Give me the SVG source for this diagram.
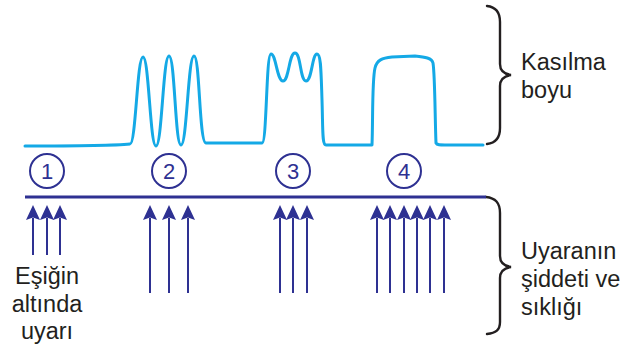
<svg xmlns="http://www.w3.org/2000/svg" width="622" height="349" viewBox="0 0 622 349">
  <style>
    .curve { fill: none; stroke: #14a9e6; stroke-width: 3; stroke-linejoin: round; stroke-linecap: round; }
    .brace { fill: none; stroke: #231f20; stroke-width: 2.4; stroke-linecap: round; }
    .axis { stroke: #2e3192; stroke-width: 3; }
    .shaft { stroke: #2e3192; stroke-width: 2; }
    .ring { fill: none; stroke: #2e3192; stroke-width: 2; }
    .num { font-family: "Liberation Sans", Arial, sans-serif; font-size: 22px; fill: #2e3192; text-anchor: middle; }
    .label { font-family: "Liberation Sans", Arial, sans-serif; font-size: 23.5px; fill: #231f20; }
    .mid { text-anchor: middle; }
  </style>
  <defs>
    <polygon id="head" points="0,205 7,220 0,217.5 -7,220" fill="#2e3192"/>
  </defs>

  <!-- contraction trace -->
  <g id="contraction-trace">
    <path class="curve" d="M25,146 C60,146 110,146 130,144 C136,144 137,57 143,57 C149,57 150,146 156,146 C162,146 163,56 169,56 C175,56 175,145 181,145 C187,145 188,56 194,56 C200,56 199,143 206,143 L262,143 C267,143 266,54 271,54 C276,54 277,81 283,81 C289,81 289,53 295,53 C301,53 300,81 306,81 C312,81 312,54 317,54 C321,54 321,70 322,100 C323,130 322,145 326,145 L372,145 C373,120 372,80 375,68 C377,60 382,58 392,57 L415,56 C425,57 432,58 433,63 C435,75 435,120 436,143 C437,145 440,145 445,145 L483,145"/>
  </g>

  <!-- braces and their labels -->
  <g id="brace-length">
    <path class="brace" d="M487,6 C496,7 500,12 500,22 L500,64 C500,71 504,74 511,75 C504,76 500,79 500,86 L500,128 C500,138 496,143 487,144"/>
    <text class="label" x="521" y="70">Kasılma</text>
    <text class="label" x="521" y="98">boyu</text>
  </g>
  <g id="brace-stimulus">
    <path class="brace" d="M486,197 C496,198 500,203 500,213 L500,256 C500,263 504,266 511,267 C504,268 500,271 500,278 L500,322 C500,330 496,333 487,334"/>
    <text class="label" x="521" y="259">Uyaranın</text>
    <text class="label" x="521" y="287">şiddeti ve</text>
    <text class="label" x="521" y="315">sıklığı</text>
  </g>

  <!-- numbered markers -->
  <g id="marker-1"><circle class="ring" cx="47" cy="171" r="17"/><text class="num" x="47" y="179">1</text></g>
  <g id="marker-2"><circle class="ring" cx="169" cy="171" r="17"/><text class="num" x="169" y="179">2</text></g>
  <g id="marker-3"><circle class="ring" cx="293" cy="171" r="17"/><text class="num" x="293" y="179">3</text></g>
  <g id="marker-4"><circle class="ring" cx="404" cy="171" r="17"/><text class="num" x="404" y="179">4</text></g>

  <!-- stimulus axis and arrows -->
  <g id="connectors">
    <line class="axis" x1="25" y1="197" x2="486" y2="197"/>

    <g id="stimuli-1">
      <line class="shaft" x1="33" y1="218" x2="33" y2="255"/>
      <line class="shaft" x1="47" y1="218" x2="47" y2="255"/>
      <line class="shaft" x1="60" y1="218" x2="60" y2="255"/>
      <use href="#head" x="33"/><use href="#head" x="47"/><use href="#head" x="60"/>
    </g>
    <g id="stimuli-2">
      <line class="shaft" x1="150" y1="218" x2="150" y2="293"/>
      <line class="shaft" x1="169" y1="218" x2="169" y2="293"/>
      <line class="shaft" x1="188" y1="218" x2="188" y2="293"/>
      <use href="#head" x="150"/><use href="#head" x="169"/><use href="#head" x="188"/>
    </g>
    <g id="stimuli-3">
      <line class="shaft" x1="280" y1="218" x2="280" y2="293"/>
      <line class="shaft" x1="293" y1="218" x2="293" y2="293"/>
      <line class="shaft" x1="307" y1="218" x2="307" y2="293"/>
      <use href="#head" x="280"/><use href="#head" x="293"/><use href="#head" x="307"/>
    </g>
    <g id="stimuli-4">
      <line class="shaft" x1="377" y1="218" x2="377" y2="293"/>
      <line class="shaft" x1="390" y1="218" x2="390" y2="293"/>
      <line class="shaft" x1="404" y1="218" x2="404" y2="293"/>
      <line class="shaft" x1="417" y1="218" x2="417" y2="293"/>
      <line class="shaft" x1="430" y1="218" x2="430" y2="293"/>
      <line class="shaft" x1="444" y1="218" x2="444" y2="293"/>
      <use href="#head" x="377"/><use href="#head" x="390"/><use href="#head" x="404"/>
      <use href="#head" x="417"/><use href="#head" x="430"/><use href="#head" x="444"/>
    </g>
  </g>

  <!-- caption under the first group -->
  <g id="caption-threshold">
    <text class="label mid" x="47" y="284">Eşiğin</text>
    <text class="label mid" x="47" y="312">altında</text>
    <text class="label mid" x="47" y="339">uyarı</text>
  </g>
</svg>
